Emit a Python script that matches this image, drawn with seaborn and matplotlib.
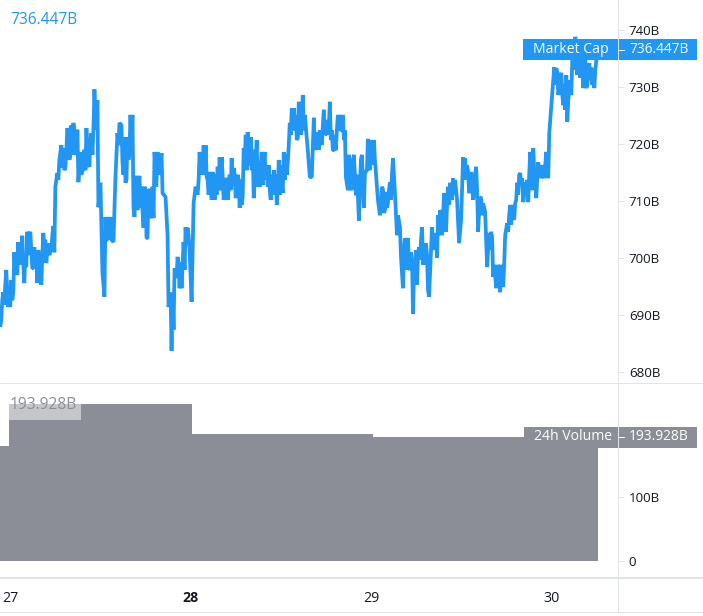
import matplotlib
matplotlib.use("Agg")
from matplotlib import pyplot as plt
from matplotlib.lines import Line2D
from matplotlib.patches import Rectangle
import pandas as pd
import seaborn as sns

# minutes since the start of the 27th
minutes = [
    -80, -56, -32, -16, 0, 8, 24, 32, 56, 64, 88, 96, 112, 128, 136, 160, 176, 184, 192, 216,
    224, 248, 264, 288, 304, 320, 344, 352, 360, 376, 392, 408, 440, 456, 472, 488, 504, 520, 536, 544,
    560, 576, 584, 608, 632, 648, 656, 672, 696, 704, 720, 736, 752, 760, 784, 792, 824, 840, 856, 864,
    872, 896, 912, 920, 936, 960, 976, 984, 992, 1008, 1032, 1040, 1048, 1064, 1072, 1088, 1096, 1104, 1120, 1136,
    1144, 1152, 1166, 1176, 1192, 1208, 1216, 1240, 1256, 1264, 1280, 1288, 1296, 1304, 1312, 1328, 1336, 1352, 1368, 1384,
    1392, 1400, 1424, 1432, 1448, 1464, 1480, 1496, 1512, 1528, 1544, 1560, 1568, 1584, 1592, 1608, 1616, 1632, 1656, 1672,
    1688, 1704, 1720, 1736, 1768, 1784, 1800, 1816, 1832, 1856, 1864, 1896, 1904, 1920, 1944, 1968, 1976, 1992, 2008, 2032,
    2056, 2064, 2080, 2104, 2128, 2144, 2176, 2184, 2216, 2232, 2248, 2264, 2296, 2304, 2320, 2336, 2352, 2376, 2392, 2408,
    2424, 2440, 2456, 2480, 2504, 2520, 2536, 2552, 2576, 2584, 2616, 2632, 2648, 2672, 2680, 2696, 2704, 2744, 2760, 2776,
    2784, 2808, 2824, 2832, 2856, 2864, 2880, 2904, 2920, 2936, 2952, 2968, 2984, 3000, 3016, 3032, 3056, 3072, 3088, 3096,
    3112, 3120, 3136, 3152, 3176, 3184, 3200, 3216, 3224, 3240, 3248, 3264, 3288, 3296, 3320, 3336, 3344, 3368, 3384, 3408,
    3416, 3432, 3448, 3464, 3480, 3496, 3512, 3528, 3536, 3560, 3584, 3600, 3616, 3632, 3656, 3664, 3680, 3696, 3720, 3736,
    3752, 3776, 3792, 3808, 3824, 3848, 3856, 3880, 3896, 3912, 3920, 3936, 3952, 3968, 3984, 3992, 4016, 4032, 4048, 4072,
    4096, 4112, 4136, 4152, 4176, 4200, 4216, 4240, 4256, 4264, 4280, 4296, 4304, 4328, 4344, 4368, 4384, 4400, 4416, 4440,
    4448, 4464, 4496, 4512, 4536, 4552, 4576, 4608, 4624, 4648, 4664, 4680, 4688,
]
market_cap = [
    687.9, 694.0, 697.9, 691.4, 691.4, 696.1, 693.9, 701.0, 697.0, 702.8, 701.4, 703.9, 695.6, 698.4, 704.6, 704.6, 698.2, 698.2, 701.9, 695.6,
    701.4, 695.3, 704.4, 699.1, 702.6, 701.2, 705.6, 701.0, 712.5, 714.9, 717.2, 719.8, 715.8, 722.8, 717.2, 723.3, 723.7, 718.6, 722.5, 713.3,
    718.6, 715.4, 715.4, 722.8, 716.0, 721.9, 718.1, 729.6, 727.7, 708.9, 713.2, 697.4, 693.2, 707.2, 707.2, 703.2, 702.8, 714.2, 721.9, 719.8,
    723.7, 716.8, 721.2, 713.2, 721.2, 725.1, 725.1, 708.8, 707.2, 714.4, 714.4, 708.9, 712.5, 705.3, 712.5, 703.5, 703.5, 711.9, 707.0, 712.5,
    707.0, 718.6, 712.5, 718.6, 715.4, 718.4, 711.4, 710.7, 704.0, 691.4, 693.9, 683.7, 693.9, 687.4, 698.2, 696.5, 700.2, 694.7, 694.7, 702.8,
    697.9, 705.4, 704.0, 701.4, 692.3, 709.6, 712.5, 711.1, 718.6, 717.2, 719.8, 719.8, 714.2, 711.1, 715.1, 710.2, 715.1, 710.2, 716.0, 717.7,
    717.7, 710.2, 714.0, 710.2, 717.5, 715.8, 710.5, 714.6, 708.8, 710.7, 719.3, 722.1, 716.8, 721.2, 710.5, 720.7, 712.5, 712.5, 718.6, 718.6,
    712.5, 716.3, 710.2, 715.4, 709.3, 717.2, 711.4, 718.6, 716.8, 723.7, 726.3, 726.3, 721.1, 727.4, 721.6, 728.6, 725.1, 718.9, 714.2, 714.2,
    724.6, 719.5, 722.1, 720.7, 726.0, 721.9, 724.2, 727.4, 718.9, 718.9, 725.1, 725.1, 722.4, 722.4, 714.2, 711.9, 718.1, 718.1, 711.0, 711.0,
    706.5, 718.1, 708.8, 714.9, 720.9, 718.1, 720.7, 720.7, 714.9, 710.2, 707.5, 712.5, 707.9, 711.6, 709.6, 713.3, 717.5, 711.4, 704.0, 707.5,
    705.4, 700.2, 694.7, 703.5, 703.5, 698.4, 701.0, 690.2, 697.4, 701.4, 695.3, 701.9, 705.4, 698.8, 702.6, 694.4, 693.2, 705.4, 704.4, 700.0,
    707.5, 708.4, 704.0, 711.4, 704.6, 712.5, 713.2, 710.2, 714.0, 711.9, 702.6, 706.7, 717.7, 717.5, 715.1, 711.4, 715.1, 710.2, 716.0, 704.6,
    710.7, 709.6, 708.1, 698.4, 704.4, 703.5, 696.7, 694.7, 698.8, 694.0, 698.8, 694.9, 704.0, 706.1, 707.5, 709.3, 707.2, 709.6, 713.2, 714.9,
    709.8, 713.3, 709.8, 718.6, 719.3, 710.5, 716.8, 714.0, 716.3, 714.0, 718.6, 714.0, 721.9, 729.0, 733.5, 732.6, 729.5, 732.5, 726.8, 732.1,
    723.9, 729.5, 734.2, 738.8, 738.2, 731.6, 729.8, 730.4, 734.2, 730.4, 729.8, 734.7, 736.4,
]

# second pass over the thick parts of the band
extra_minutes = [
    -72, -64, -48, -40, -24, -8, 16, 40, 48, 72, 80, 104, 120, 144, 152, 168, 200, 208, 232, 240,
    256, 272, 280, 296, 312, 328, 336, 384, 416, 424, 432, 448, 464, 480, 496, 512, 528, 568, 592, 600,
    616, 624, 640, 664, 684, 768, 776, 800, 808, 888, 904, 928, 944, 952, 968, 1000, 1016, 1024, 1056, 1080,
    1112, 1128, 1160, 1184, 1200, 1344, 1360, 1376, 1408, 1416, 1504, 1520, 1536, 1552, 1576, 1600, 1624, 1640, 1648, 1664,
    1680, 1696, 1712, 1728, 1744, 1752, 1760, 1776, 1792, 1808, 1824, 1840, 1848, 1872, 1880, 1888, 1912, 1928, 1936, 1952,
    1960, 1984, 2000, 2016, 2024, 2040, 2048, 2072, 2088, 2096, 2112, 2120, 2136, 2152, 2160, 2168, 2192, 2200, 2208, 2224,
    2240, 2256, 2272, 2280, 2288, 2312, 2328, 2344, 2432, 2448, 2464, 2472, 2488, 2496, 2512, 2528, 2544, 2560, 2568, 2592,
    2600, 2608, 2624, 2640, 2656, 2664, 2712, 2720, 2728, 2736, 2752, 2768, 2792, 2800, 2848, 2872, 2888, 2896, 2912, 2960,
    2976, 2992, 3008, 3024, 3040, 3048, 3144, 3160, 3168, 3192, 3208, 3232, 3256, 3272, 3280, 3304, 3312, 3328, 3376, 3392,
    3400, 3424, 3440, 3456, 3472, 3488, 3504, 3520, 3544, 3552, 3568, 3624, 3640, 3648, 3672, 3688, 3704, 3712, 3728, 3744,
    3760, 3768, 3832, 3840, 3864, 3872, 3888, 3904, 3928, 3944, 3976, 4000, 4008, 4024, 4040, 4056, 4064, 4080, 4088, 4104,
    4120, 4128, 4144, 4160, 4168, 4184, 4192, 4208, 4224, 4232, 4248, 4272, 4288, 4352, 4360, 4376, 4392, 4408, 4424, 4432,
    4456, 4472, 4480, 4488, 4504, 4520, 4528, 4544, 4560, 4568, 4584, 4592, 4600, 4616, 4632, 4640, 4656, 4672,
]
extra_cap = [
    689.1, 692.6, 691.8, 695.3, 694.4, 693.5, 692.6, 697.9, 698.8, 698.8, 702.3, 698.8, 700.5, 700.5, 704.0, 701.4, 698.8, 701.4, 698.8, 697.9,
    700.5, 701.4, 703.2, 701.4, 700.5, 701.4, 704.0, 713.7, 715.8, 719.3, 715.4, 718.9, 721.6, 718.1, 718.1, 722.5, 718.1, 714.6, 719.0, 715.4,
    719.0, 716.3, 720.7, 722.5, 722.5, 703.2, 703.2, 707.2, 703.2, 723.3, 714.6, 713.7, 717.2, 719.0, 719.8, 713.7, 708.4, 713.7, 708.4, 711.9,
    711.9, 707.5, 715.4, 714.6, 716.3, 698.8, 699.3, 698.8, 702.3, 705.3, 713.7, 714.6, 714.6, 714.6, 713.7, 713.7, 712.8, 714.6, 711.1, 711.9,
    711.9, 714.6, 711.1, 713.7, 711.9, 714.6, 711.9, 712.8, 714.6, 711.9, 713.7, 713.7, 709.3, 716.3, 721.6, 715.4, 716.3, 715.4, 719.0, 713.7,
    717.2, 716.3, 716.3, 712.8, 717.2, 713.7, 716.3, 711.9, 714.6, 711.1, 711.9, 714.6, 711.9, 711.1, 716.3, 712.8, 713.7, 718.1, 714.6, 719.8,
    721.6, 723.3, 722.4, 725.1, 720.7, 724.2, 724.2, 722.4, 719.0, 719.0, 719.0, 722.4, 719.8, 723.3, 721.6, 721.6, 723.3, 720.7, 722.4, 721.6,
    718.9, 722.4, 722.4, 722.4, 725.1, 720.7, 711.9, 717.2, 711.9, 717.2, 714.6, 714.6, 711.9, 717.2, 715.4, 715.4, 718.1, 716.3, 717.2, 708.4,
    712.0, 708.4, 708.8, 711.9, 710.2, 714.6, 701.4, 697.9, 702.3, 697.9, 699.7, 696.1, 700.5, 699.7, 703.2, 702.3, 698.8, 700.5, 701.4, 701.4,
    704.0, 704.0, 707.5, 707.5, 707.5, 709.3, 709.3, 711.9, 711.1, 713.7, 710.2, 714.6, 713.7, 716.3, 711.9, 713.7, 711.9, 714.6, 711.9, 708.4,
    710.5, 707.5, 701.4, 704.6, 698.8, 697.0, 697.0, 697.9, 697.0, 698.8, 704.6, 705.8, 709.3, 706.7, 710.2, 711.1, 714.6, 712.8, 714.0, 711.1,
    711.9, 713.7, 714.6, 717.2, 711.9, 715.4, 713.7, 713.7, 714.6, 716.3, 714.6, 716.3, 717.2, 730.4, 733.3, 728.6, 731.6, 728.6, 730.4, 726.0,
    727.7, 731.2, 728.6, 734.7, 733.0, 736.5, 732.1, 735.6, 733.0, 735.6, 733.0, 734.7, 729.8, 733.0, 731.2, 733.4, 733.0, 733.0,
]

# daily volume, one step per bin
volume_edges = [-300, -10, 1453, 2898, 4695]
volume = [180, 245.3, 198.6, 193.9]

day_ticks = [0, 1440, 2880, 4320]
day_labels = ["27", "28", "29", "30"]
cap_ticks = [680, 690, 700, 710, 720, 730, 740]
vol_ticks = [0, 100]

BLUE = "#2196f3"
GREY = "#8b8e96"
RULE = "#e0e3eb"
INK = "#131722"
W, H = 703, 616

sns.set_theme(style="white")
plt.rcParams["font.family"] = ["Open Sans", "DejaVu Sans"]

fig = plt.figure(figsize=(W / 100, H / 100), dpi=100)


def box(x0, y0, x1, y1):
    return [x0 / W, 1 - y1 / H, (x1 - x0) / W, (y1 - y0) / H]


def rule(x0, y0, x1, y1, lw=1.0, color=RULE, z=1):
    fig.add_artist(Line2D([x0 / W, x1 / W], [1 - y0 / H, 1 - y1 / H], color=color, lw=lw * 0.72,
                          transform=fig.transFigure, zorder=z))


def tag(x0, y0, x1, y1, color, alpha=1.0):
    fig.add_artist(Rectangle((x0 / W, 1 - y1 / H), (x1 - x0) / W, (y1 - y0) / H, facecolor=color,
                             edgecolor="none", alpha=alpha, transform=fig.transFigure, zorder=2))


def label(x, y, s, color, size=9.6):
    fig.text(x / W, 1 - y / H, s, color=color, va="center", fontsize=size)


cap = pd.DataFrame({"minutes": minutes + extra_minutes, "cap": market_cap + extra_cap}).sort_values("minutes")

ax = fig.add_axes(box(0, 0, 618, 383))
ax_vol = fig.add_axes(box(0, 384, 618, 577))

sns.lineplot(data=cap, x="minutes", y="cap", ax=ax, color=BLUE, linewidth=2.7, errorbar=None, estimator=None,
             solid_joinstyle="bevel", solid_capstyle="butt")
sns.histplot(x=volume_edges[:-1], weights=volume, bins=volume_edges, element="step", fill=True,
             color=GREY, alpha=1, linewidth=0, ax=ax_vol)

for a in (ax, ax_vol):
    a.set_xlim(-82, 4853)
    a.set_xlabel("")
    a.set_ylabel("")
    a.yaxis.tick_right()
    a.tick_params(axis="y", length=4.3, width=0.72, color=RULE, labelcolor=INK, pad=3.5, labelsize=9.6)
    sns.despine(ax=a, left=True, top=True, bottom=True, right=True)

ax.set_ylim(678.07, 745.26)
ax.set_yticks(cap_ticks)
ax.set_yticklabels([f"{v}B" for v in cap_ticks])
ax.set_xticks([])

ax_vol.set_ylim(-24.3, 276.4)
ax_vol.set_yticks(vol_ticks)
ax_vol.set_yticklabels(["0", "100B"])
ax_vol.set_xticks(day_ticks)
ax_vol.set_xticklabels(day_labels)
ax_vol.tick_params(axis="x", length=4, width=0.72, color=RULE, labelcolor=INK, pad=6, labelsize=10.2, direction="out")
ax_vol.get_xticklabels()[1].set_fontweight("bold")

# panel rules
rule(618, 0, 618, 612)
rule(0, 383, W, 383)
rule(0, 578, W, 578, lw=2)
rule(0, 612, W, 612)

# value tags on the scale
tag(523, 39, 617.5, 60, BLUE)
tag(618.5, 39, 697, 60, BLUE)
rule(618.5, 49.5, 624, 49.5, color="white", z=3)
label(533, 49.5, "Market Cap", "white", 10.1)
label(629, 49.5, "736.447B", "white", 9.9)
tag(524, 427, 617.5, 448, GREY)
tag(618.5, 427, 697, 448, GREY)
rule(618.5, 437, 624, 437, color="white", z=3)
label(534, 436.5, "24h Volume", "white", 10.1)
label(629, 436.5, "193.928B", "white", 9.9)

# legends in the panel corners
label(10, 19.5, "736.447B", BLUE, 11.2)
tag(9, 404, 81, 420, "white", alpha=0.5)
label(10, 405, "193.928B", GREY, 11.2)

fig.savefig("out.png", dpi=100)
